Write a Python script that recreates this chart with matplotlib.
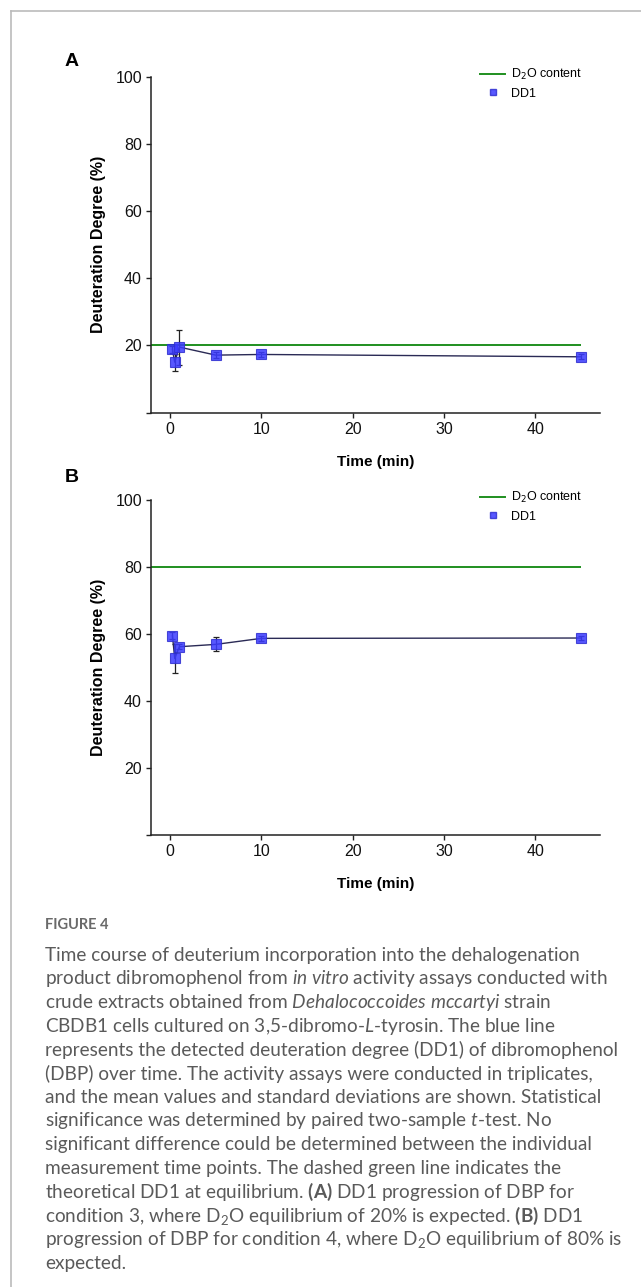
import matplotlib
matplotlib.use("Agg")
import matplotlib.pyplot as plt
from matplotlib.lines import Line2D

# ---------------- data ----------------
times = [0.25, 0.5, 1, 5, 10, 45]
dd1_a = [18.8, 15.0, 19.5, 17.1, 17.3, 16.6]
err_a = [1.0, 2.5, 5.2, 0.8, 0.8, 0.8]
dd1_b = [59.5, 52.7, 56.2, 56.9, 58.7, 58.8]
err_b = [1.0, 4.4, 0.8, 2.1, 0.7, 0.6]
d2o_a = 20
d2o_b = 80
d2o_end = 45
xticks = [0, 10, 20, 30, 40]
yticks = [0, 20, 40, 60, 80, 100]
ytick_labels = ["", "20", "40", "60", "80", "100"]
panel_labels = ["A", "B"]
caption_title = "FIGURE 4"

W, H = 641, 1287
fig = plt.figure(figsize=(W / 100, H / 100), dpi=100)
fig.patch.set_facecolor("white")

SANS = ["Liberation Sans", "DejaVu Sans"]
GREEN = "#1f8f1f"
BLUE = "#3b3bff"
NAVY = "#2a2a55"

def px(x0, y0, x1, y1):
    return [x0 / W, 1 - y1 / H, (x1 - x0) / W, (y1 - y0) / H]

XL = (-2.1, 47.1)

def panel(rect, vals, errs, level, label, label_pos):
    ax = fig.add_axes(rect)
    ax.set_xlim(*XL)
    ax.set_ylim(0, 100)
    for s in ["top", "right"]:
        ax.spines[s].set_visible(False)
    for s in ["left", "bottom"]:
        ax.spines[s].set_linewidth(1.1)
        ax.spines[s].set_color("#222222")
    ax.hlines(level, XL[0], d2o_end, color=GREEN, lw=1.4, zorder=2)
    ax.errorbar(times, vals, yerr=errs, fmt="none", ecolor="#222222",
                elinewidth=0.9, capsize=2.5, capthick=0.9, zorder=3)
    ax.plot(times, vals, color=NAVY, lw=1.0, zorder=3)
    ax.plot(times, vals, ls="none", marker="s", ms=6.5, mfc=BLUE, mec="#3030d0",
            mew=0.8, alpha=0.85, zorder=4)
    ax.set_xticks(xticks)
    ax.set_yticks(yticks)
    ax.set_yticklabels(ytick_labels)
    ax.tick_params(direction="out", length=3.5, width=1, colors="#222222",
                   labelsize=11.5, labelcolor="#111111", pad=3)
    for t in ax.get_xticklabels() + ax.get_yticklabels():
        t.set_family(SANS)
    ax.set_ylabel("Deuteration Degree (%)", fontsize=11.5, fontweight="bold",
                  family=SANS, labelpad=7)
    ax.set_xlabel("Time (min)", fontsize=11, fontweight="bold", family=SANS,
                  labelpad=13)
    handles = [Line2D([0], [0], color=GREEN, lw=1.4),
               Line2D([0], [0], ls="none", marker="s", ms=5, mfc=BLUE,
                      mec="#3030d0", alpha=0.85)]
    h_ax = rect[3] * H
    ax.legend(handles, ["D$_2$O content", "DD1"], loc="upper left",
              bbox_to_anchor=((480 - 151) / 449, 1 + 10 / h_ax),
              bbox_transform=ax.transAxes, frameon=False, borderpad=0,
              borderaxespad=0, prop={"family": SANS, "size": 9},
              handlelength=2.0, handletextpad=0.45, labelspacing=0.45)
    fig.text(label_pos[0] / W, 1 - label_pos[1] / H, label, fontsize=14,
             fontweight="bold", family=SANS, ha="left", va="center")
    return ax

panel(px(151, 77, 600, 412.5), dd1_a, err_a, d2o_a, panel_labels[0], (65, 62))
panel(px(151, 500, 600, 835), dd1_b, err_b, d2o_b, panel_labels[1], (65, 477))

# frame lines
fig.add_artist(Line2D([11 / W, 11 / W], [0, 1 - 11 / H], color="#bbbbbb", lw=1.2))
fig.add_artist(Line2D([11 / W, 1], [1 - 11 / H, 1 - 11 / H], color="#bbbbbb", lw=1.2))

CAP = ["Lato", "Open Sans", "DejaVu Sans"]
GRAY = "#5a5a5a"
fig.text(45 / W, 1 - 925 / H, caption_title, fontsize=10.5, fontweight="bold",
         family=CAP, color="#6a6a6a", va="center")

lines = [
    r"Time course of deuterium incorporation into the dehalogenation",
    r"product dibromophenol from $\it{in\ vitro}$ activity assays conducted with",
    r"crude extracts obtained from $\it{Dehalococcoides\ mccartyi}$ strain",
    r"CBDB1 cells cultured on 3,5-dibromo-$\it{L}$-tyrosin. The blue line",
    r"represents the detected deuteration degree (DD1) of dibromophenol",
    r"(DBP) over time. The activity assays were conducted in triplicates,",
    r"and the mean values and standard deviations are shown. Statistical",
    r"significance was determined by paired two-sample $\it{t}$-test. No",
    r"significant difference could be determined between the individual",
    r"measurement time points. The dashed green line indicates the",
    r"theoretical DD1 at equilibrium. $\bf{(A)}$ DD1 progression of DBP for",
    r"condition 3, where D$_2$O equilibrium of 20% is expected. $\bf{(B)}$ DD1",
    r"progression of DBP for condition 4, where D$_2$O equilibrium of 80% is",
    r"expected.",
]
plt.rcParams["mathtext.fontset"] = "custom"
plt.rcParams["mathtext.rm"] = "Lato"
plt.rcParams["mathtext.it"] = "Lato:italic"
plt.rcParams["mathtext.bf"] = "Lato:bold"
y0 = 955
for i, ln in enumerate(lines):
    fig.text(45 / W, 1 - (y0 + i * 23.7) / H, ln, fontsize=13.7, family=CAP,
             color=GRAY, va="center")

fig.savefig("out.png", dpi=100)
